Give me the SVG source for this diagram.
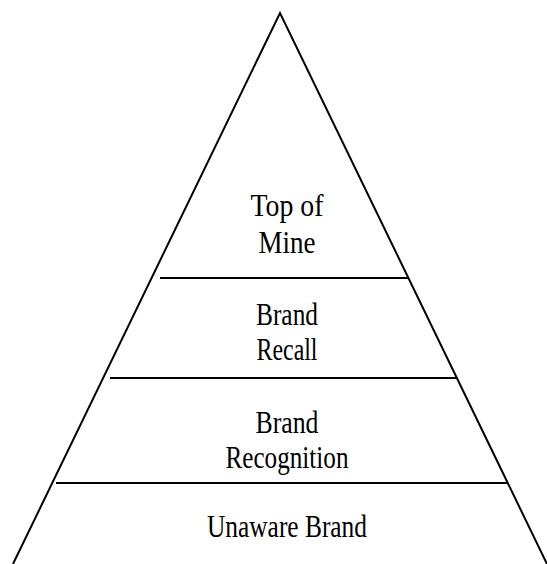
<svg xmlns="http://www.w3.org/2000/svg" width="547" height="564" viewBox="0 0 547 564">
<style>
.ln{stroke:#000;stroke-width:2;fill:none}
.t{font-family:"Liberation Serif","Times New Roman",serif;font-size:31px;fill:#000;text-anchor:middle}
</style>
<rect width="547" height="564" fill="#fff"/>
<g id="connectors">
<path class="ln" d="M13,564 L280,13 L547,564"/>
<line class="ln" x1="160" y1="278" x2="408" y2="278"/>
<line class="ln" x1="110" y1="378" x2="456" y2="378"/>
<line class="ln" x1="56" y1="483" x2="508" y2="483"/>
</g>
<g id="top">
<text class="t" x="287" y="216" textLength="73" lengthAdjust="spacingAndGlyphs">Top of</text>
<text class="t" x="287" y="253" textLength="57" lengthAdjust="spacingAndGlyphs">Mine</text>
</g>
<g id="recall">
<text class="t" x="287" y="325" textLength="62" lengthAdjust="spacingAndGlyphs">Brand</text>
<text class="t" x="287" y="360" textLength="61" lengthAdjust="spacingAndGlyphs">Recall</text>
</g>
<g id="recognition">
<text class="t" x="287" y="433" textLength="63" lengthAdjust="spacingAndGlyphs">Brand</text>
<text class="t" x="287" y="468" textLength="123" lengthAdjust="spacingAndGlyphs">Recognition</text>
</g>
<g id="unaware">
<text class="t" x="287" y="537" textLength="160" lengthAdjust="spacingAndGlyphs">Unaware Brand</text>
</g>
</svg>
